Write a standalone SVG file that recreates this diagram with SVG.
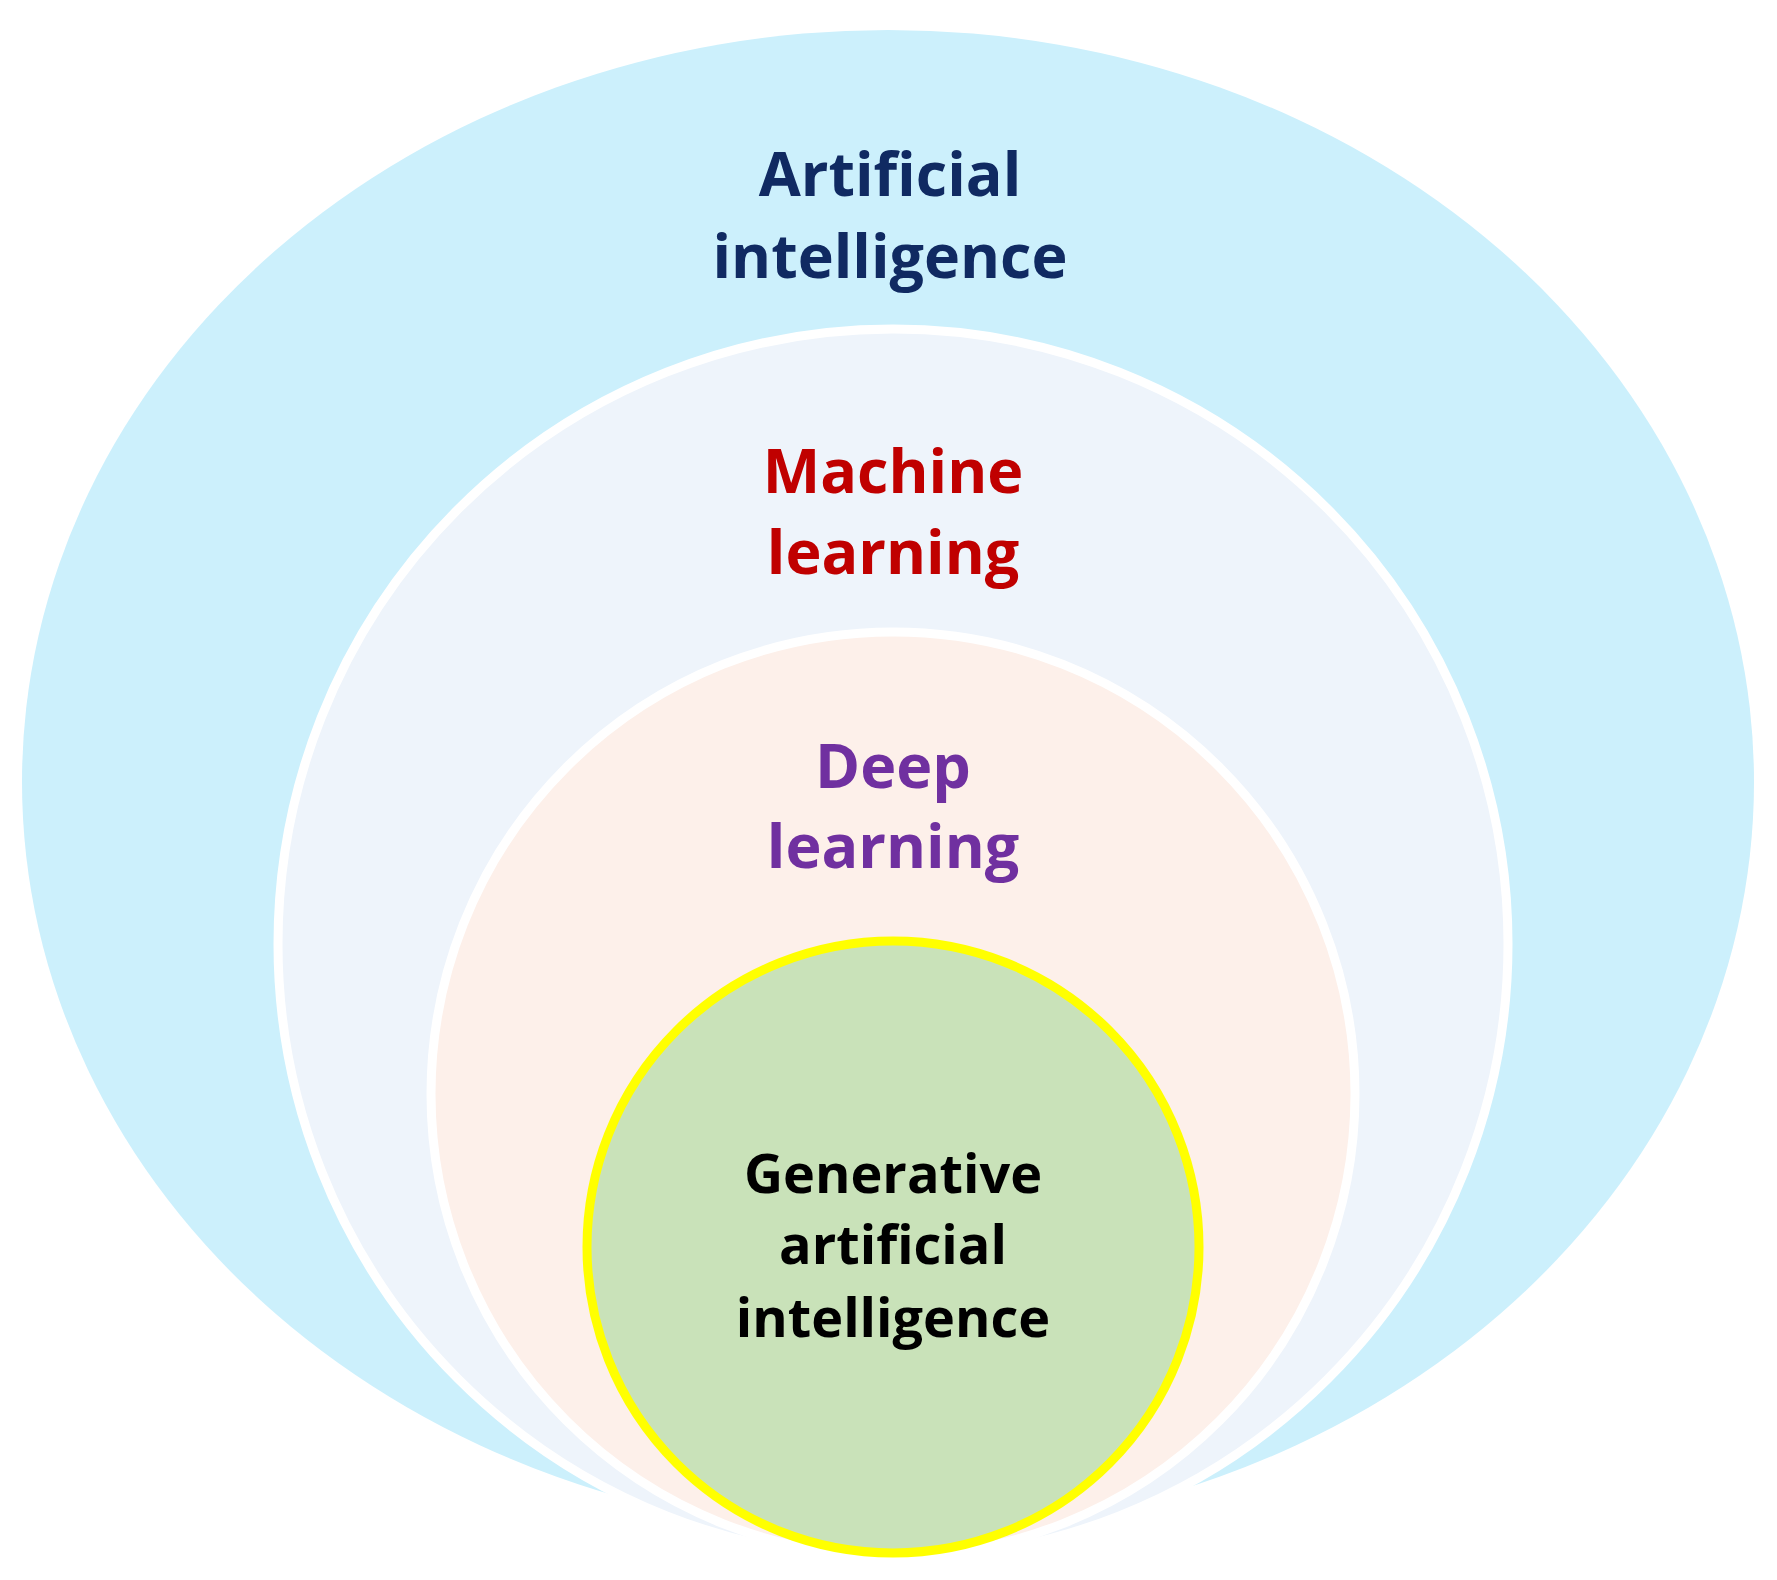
<svg xmlns="http://www.w3.org/2000/svg" width="1777" height="1580" viewBox="0 0 1777 1580">
<style>
text{font-family:"Open Sans","Liberation Sans",sans-serif;font-weight:bold;text-anchor:middle}
.big{font-size:61px}
.small{font-size:54px;fill:#000}
</style>
<rect width="1777" height="1580" fill="#fff"/>
<g id="ai"><ellipse cx="888" cy="782" rx="866" ry="752" fill="#ccf0fc"/>
<text class="big" fill="#102a62" x="890" y="196">Artificial</text><text class="big" fill="#102a62" x="890" y="278">intelligence</text></g>
<g id="ml"><circle cx="893" cy="944" r="615" fill="#eef4fb" stroke="#fff" stroke-width="9"/>
<text class="big" fill="#c00000" x="893" y="493">Machine</text><text class="big" fill="#c00000" x="893" y="574">learning</text></g>
<g id="dl"><circle cx="893" cy="1094" r="462" fill="#fdf0ea" stroke="#fff" stroke-width="9"/>
<text class="big" fill="#7030a0" x="893" y="788">Deep</text><text class="big" fill="#7030a0" x="893" y="868">learning</text></g>
<g id="gen"><circle cx="893" cy="1247" r="306" fill="#c9e2b9" stroke="#ffff00" stroke-width="9"/>
<text class="small" x="893" y="1193">Generative</text><text class="small" x="893" y="1264">artificial</text><text class="small" x="893" y="1337">intelligence</text></g>
<g id="connectors"/>
</svg>
